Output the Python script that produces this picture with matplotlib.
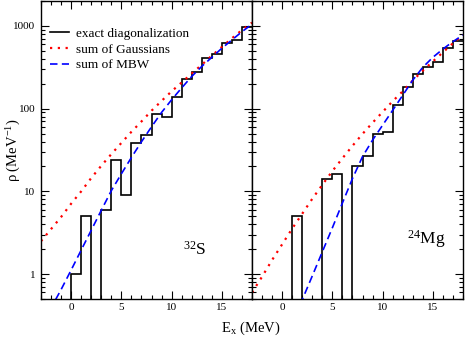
import matplotlib
matplotlib.use("Agg")
import matplotlib.pyplot as plt
from matplotlib.ticker import FixedLocator, MultipleLocator, LogLocator, NullFormatter

plt.rcParams['font.family'] = ['Liberation Serif', 'DejaVu Serif']
plt.rcParams['mathtext.fontset'] = 'custom'
plt.rcParams['mathtext.rm'] = 'Liberation Serif'
plt.rcParams['mathtext.it'] = 'Liberation Serif:italic'

# ---- data ----
bin_edges = [-3, -2, -1, 0, 1, 2, 3, 4, 5, 6, 7, 8, 9, 10, 11, 12, 13, 14, 15, 16, 17, 18]
# 32S exact diagonalization histogram (counts per MeV) for each 1-MeV bin
s32_hist = [0, 0, 0, 1, 5, 0, 6, 24, 9, 38.5, 48.5, 86, 79, 138, 227, 276, 414, 457, 619, 678, 980]
# 24Mg exact diagonalization histogram
mg24_hist = [0, 0, 0, 0, 5, 0, 0, 14, 16, 0, 20, 27, 50, 52, 111, 185, 265, 320, 363, 543, 649]

E_curve = [-3, -2, -1, 0, 1, 2, 3, 4, 5, 6, 7, 8, 9, 10, 11, 12, 13, 14, 15, 16, 17, 18]
s32_gauss = [2.5, 3.5, 4.9, 7.1, 10.0, 14.5, 20.4, 28.2, 38.5, 52.5, 70, 94.4, 124, 162,
             207, 266, 339, 437, 556, 708, 891, 1096]
s32_mbw = [0.2, 0.39, 0.65, 1.12, 1.95, 3.39, 5.9, 10.2, 16.3, 25.7, 39.8, 60.3, 90, 128,
           178, 245, 324, 417, 537, 676, 851, 1047]
mg24_gauss = [0.60, 0.93, 1.48, 2.29, 3.55, 5.37, 8.13, 12.0, 17.6, 25.1, 35.5, 49.5, 67.6,
              91.2, 123, 162, 219, 288, 372, 479, 617, 776]
mg24_mbw = [0.01, 0.02, 0.04, 0.08, 0.18, 0.49, 0.95, 1.86, 3.63, 7.24, 14.3, 26.3, 41.7,
            63.1, 95.5, 145, 221, 316, 417, 525, 646, 776]

xticks = [0, 5, 10, 15]
yticks = [1, 10, 100, 1000]
ytick_labels = ['1', '10', '100', '1000']

W, H = 466, 338
fig = plt.figure(figsize=(W / 100, H / 100), dpi=100)
bottom = (H - 299) / H
height = 298 / H
axL = fig.add_axes([41 / W, bottom, 211 / W, height])
axR = fig.add_axes([252 / W, bottom, 211 / W, height])

panels = [(axL, s32_hist, s32_gauss, s32_mbw), (axR, mg24_hist, mg24_gauss, mg24_mbw)]
for ax, hist, gauss, mbw in panels:
    ax.set_yscale('log')
    ax.stairs(hist, bin_edges, baseline=None, color='black', lw=1.2,
              label='exact diagonalization')
    ax.plot(E_curve, gauss, color='#ff0000', lw=1.6, linestyle=(0, (1, 2.5)),
            label='sum of Gaussians')
    ax.plot(E_curve, mbw, color='#0000ff', lw=1.2, linestyle=(0, (4.5, 2.6)),
            label='sum of MBW')
    ax.set_xlim(-3, 18)
    ax.set_ylim(0.5, 2000)
    ax.xaxis.set_major_locator(FixedLocator(xticks))
    ax.xaxis.set_minor_locator(MultipleLocator(1))
    ax.yaxis.set_major_locator(FixedLocator(yticks))
    ax.yaxis.set_minor_locator(LogLocator(base=10, subs=range(2, 10)))
    ax.yaxis.set_minor_formatter(NullFormatter())
    ax.tick_params(which='both', direction='in', top=True, right=True,
                   labelsize=8, width=0.8)
    ax.tick_params(which='major', length=6, pad=3)
    ax.tick_params(which='minor', length=3)
    for sp in ax.spines.values():
        sp.set_linewidth(1.0)

axL.set_yticklabels(ytick_labels)
axL.tick_params(axis='y', pad=4)
axR.tick_params(axis='y', labelleft=False)

axL.text(11.15, 1.73, r'$^{32}$S', fontsize=12.5, ha='left', va='baseline')
axR.text(12.4, 2.33, r'$^{24}$Mg', fontsize=12.5, ha='left', va='baseline')

axL.legend(loc='upper left', bbox_to_anchor=(0.043, 0.91), frameon=False,
           fontsize=9.5, handlelength=1.4, handletextpad=0.6, labelspacing=0.25,
           borderpad=0, borderaxespad=0)

fig.text(14 / W, 1 - 150 / H, r'ρ (MeV$^{-1}$)', rotation=90, ha='center', va='center',
         fontsize=10.5)
fig.text(251 / W, (H - 332) / H, r'E$_\mathrm{x}$ (MeV)', ha='center', va='baseline',
         fontsize=10.5)

fig.savefig('out.png', dpi=100)
